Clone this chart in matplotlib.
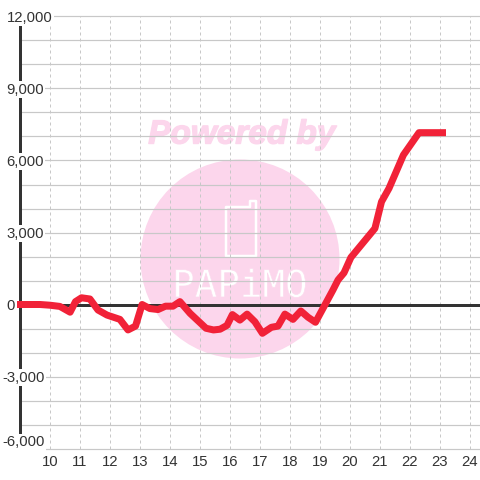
import matplotlib
matplotlib.use("Agg")
import matplotlib.patheffects as pe
import matplotlib.pyplot as plt
from matplotlib.patches import Circle, Polygon

plt.rcParams["font.family"] = ["Liberation Sans", "DejaVu Sans"]

hours = [8.9, 9.67, 10.0, 10.33, 10.67, 10.85, 11.05, 11.33, 11.6, 11.9, 12.33, 12.6, 12.85,
         13.07, 13.33, 13.6, 13.85, 14.1, 14.33, 14.67, 15.2, 15.45, 15.67, 15.9, 16.08,
         16.33, 16.57, 16.83, 17.08, 17.38, 17.6, 17.83, 18.1, 18.36, 18.6, 18.85, 19.43,
         19.6, 19.8, 20.03, 20.83, 21.05, 21.3, 21.78, 22.3, 23.2]
values = [0, 0, -30, -80, -320, 120, 280, 230, -230, -440, -620, -1060, -900,
          0, -170, -210, -70, -70, 120, -370, -990, -1060, -1030, -870, -420,
          -650, -400, -720, -1200, -950, -900, -400, -620, -270, -530, -740, 600,
          1020, 1320, 1960, 3170, 4280, 4840, 6230, 7160, 7160]

x_ticks = list(range(10, 25))
y_major = [12000, 9000, 6000, 3000, 0, -3000, -6000]
y_minor = [11000, 10000, 8000, 7000, 5000, 4000, 2000, 1000, -1000, -2000, -4000, -5000]

GRID = "#c8c8c8"
INK = "#333333"
PINK = "#fcd6ec"
PX = 72 / 100  # points per pixel at dpi 100

fig = plt.figure(figsize=(4.8, 4.8), dpi=100)
ax = fig.add_axes([20 / 480, 31.5 / 480, 460 / 480, 432 / 480])
ax.set_zorder(1)
ax.patch.set_alpha(0)
ax.set_xlim(9, 9 + 460 / 30)
ax.set_ylim(-6000, 12000)
for s in ax.spines.values():
    s.set_visible(False)


def to_fig(x, y):
    return x / 480, 1 - y / 480


# watermark sits in pixel space, under the grid
fig.patches.append(Circle((240, 480 - 259), 99.5, transform=None, fc=PINK, ec="none", zorder=0))
fig.text(*to_fig(242, 135), "Powered by", color=PINK, fontsize=24, fontweight="bold", fontstyle="italic",
         ha="center", va="center", zorder=0,
         path_effects=[pe.withStroke(linewidth=1, foreground=PINK)])
phone = [(226, 207), (250, 207), (250, 201), (256, 201), (256, 256), (226, 256)]
fig.patches.append(Polygon([(x, 480 - y) for x, y in phone], closed=True, transform=None, fc="none",
                           ec="white", lw=2.5 * PX, joinstyle="round", zorder=0))
fig.text(*to_fig(240, 287), "PAPiMO", color="white", fontsize=27, family="DejaVu Sans Mono",
         ha="center", va="center", zorder=0,
         path_effects=[pe.Normal(), pe.Stroke(linewidth=0.5, foreground=PINK)])

ax.set_xticks(x_ticks)
ax.set_yticks(y_major + y_minor)
ax.tick_params(length=0, labelleft=False, labelbottom=False)
for v in y_major + y_minor:
    ax.plot([9, 9 + 460 / 30], [v, v], color=GRID, lw=1.2 * PX, zorder=1, clip_on=False)
for h in x_ticks:
    ax.plot([h, h], [-6000, 12000], color=GRID, lw=1 * PX, ls=(0, (3, 3)), zorder=1, clip_on=False)

ax.axhline(0, color=INK, lw=3 * PX, zorder=2, clip_on=False)
ax.axvline(9, color=INK, lw=3 * PX, zorder=2, clip_on=False)

ax.plot(hours, values, color="#f12238", lw=7 * PX, solid_capstyle="butt", solid_joinstyle="round",
        zorder=5, clip_on=False)

label_box = dict(fc="white", ec="none", pad=1)
for v in y_major:
    left = 2.5 if v < 0 else 6.5
    py = 305.5 - v * 72 / 3000
    if v == -6000:
        py = 442.5  # bottom label is pushed up inside the plot
    ax.text(*to_fig(left, py), f"{v:,}", transform=fig.transFigure, color=INK, fontsize=10.7,
            ha="left", va="center", bbox=label_box, zorder=4, clip_on=False)
for h in x_ticks:
    ax.annotate(str(h), (h, -6000), xytext=(0, -13 * PX), textcoords="offset points", color=INK,
                fontsize=10.7, ha="center", va="center", annotation_clip=False)

fig.savefig("out.png", dpi=100, facecolor="white")
